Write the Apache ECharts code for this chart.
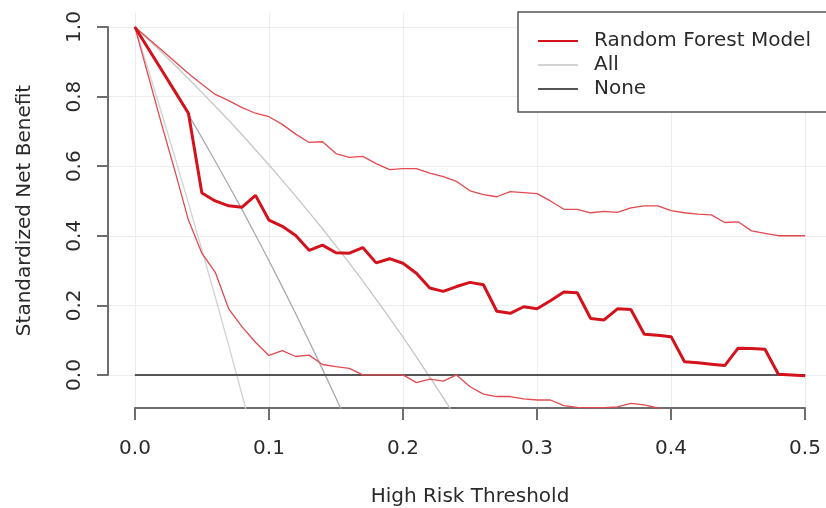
<!DOCTYPE html>
<html><head><meta charset="utf-8">
<script src="https://cdn.jsdelivr.net/npm/echarts@6/dist/echarts.min.js"></script>
<style>html,body{margin:0;padding:0;background:#fff}#c{width:826px;height:508px}</style>
</head><body><div id="c"></div>
<script>
const thresholds = [0.00,0.01,0.02,0.03,0.04,0.05,0.06,0.07,0.08,0.09,0.10,0.11,0.12,0.13,0.14,0.15,0.16,0.17,0.18,0.19,0.20,0.21,0.22,0.23,0.24,0.25,0.26,0.27,0.28,0.29,0.30,0.31,0.32,0.33,0.34,0.35,0.36,0.37,0.38,0.39,0.40,0.41,0.42,0.43,0.44,0.45,0.46,0.47,0.48,0.49,0.50];
const modelNB = [1.0,0.938,0.876,0.814,0.752,0.523,0.500,0.486,0.482,0.516,0.445,0.427,0.401,0.358,0.373,0.351,0.350,0.366,0.322,0.334,0.321,0.292,0.250,0.240,0.254,0.266,0.259,0.183,0.177,0.196,0.190,0.213,0.238,0.236,0.162,0.158,0.190,0.188,0.117,0.114,0.110,0.038,0.035,0.031,0.027,0.077,0.076,0.074,0.002,0.000,-0.002];
const modelUpper = [1.0,0.967,0.934,0.900,0.866,0.835,0.806,0.788,0.768,0.752,0.742,0.720,0.692,0.668,0.670,0.636,0.625,0.628,0.607,0.590,0.593,0.593,0.580,0.570,0.556,0.529,0.518,0.512,0.527,0.524,0.521,0.500,0.476,0.476,0.466,0.470,0.467,0.480,0.486,0.486,0.472,0.466,0.462,0.460,0.438,0.440,0.414,0.407,0.400,0.400,0.400];
const modelLower = [1.0,0.86,0.72,0.585,0.445,0.35,0.295,0.19,0.138,0.094,0.056,0.07,0.053,0.057,0.03,0.024,0.019,0.0,0.0,0.0,0.0,-0.022,-0.012,-0.018,0.0,-0.034,-0.055,-0.062,-0.062,-0.069,-0.072,-0.072,-0.088,-0.093,-0.094,-0.094,-0.092,-0.082,-0.086,-0.095,-0.11];
const allLow = [1.0,0.877,0.752,0.624,0.493,0.360,0.224,0.085,-0.057,-0.203];
const allMid = [1.0,0.939,0.877,0.813,0.748,0.682,0.614,0.545,0.475,0.402,0.329,0.253,0.176,0.097,0.016,-0.066,-0.151];
const allHigh = [1.0,0.964,0.927,0.890,0.851,0.812,0.772,0.732,0.690,0.647,0.604,0.559,0.514,0.467,0.420,0.371,0.321,0.270,0.217,0.164,0.109,0.052,-0.006,-0.065,-0.126];
const noneX = [0.0, 0.5];
const noneY = [0.0, 0.0];
const xTickLabels = ['0.0','0.1','0.2','0.3','0.4','0.5'];
const yTickLabels = ['0.0','0.2','0.4','0.6','0.8','1.0'];

const FONT = 'DejaVu Sans';
const TXT = '#2b2b2b';
const AX = '#6e6e6e';
const pairs = (ys, xs) => ys.map((y, i) => [(xs || thresholds)[i], y]);

const chart = echarts.init(document.getElementById('c'), null, {renderer: 'canvas'});
const line = (name, data, color, width, z) => ({
  type: 'line', name, data, xAxisIndex: 0, yAxisIndex: 0, symbol: 'none', showSymbol: false,
  lineStyle: {color, width}, itemStyle: {color}, z, silent: true, animation: false, clip: true
});
const G = {containLabel: false, outerBoundsMode: 'none'};
chart.setOption({
  animation: false,
  backgroundColor: '#fff',
  grid: [
    Object.assign({left: 108, width: 724, top: 13, height: 395}, G),
    Object.assign({left: 135, width: 670, top: 13, height: 395}, G),
    Object.assign({left: 108, width: 724, top: 27, height: 348}, G)
  ],
  xAxis: [
    {gridIndex: 0, type: 'value', min: -0.02, max: 0.52,
     axisLine: {show: false}, axisTick: {show: false}, axisLabel: {show: false}, splitLine: {show: false},
     name: 'High Risk Threshold', nameLocation: 'middle', nameGap: 79,
     nameTextStyle: {fontFamily: FONT, fontSize: 20, color: TXT}},
    {gridIndex: 1, type: 'value', min: 0, max: 0.5, interval: 0.1,
     axisLine: {show: true, onZero: false, lineStyle: {color: AX, width: 2}},
     axisTick: {show: true, inside: false, length: 12, lineStyle: {color: AX, width: 2}},
     axisLabel: {fontFamily: FONT, fontSize: 20, color: TXT, margin: 31,
                 formatter: (v) => xTickLabels[Math.round(v * 10)]},
     splitLine: {show: true, lineStyle: {color: '#ededed', width: 1}}},
    {gridIndex: 2, type: 'value', show: false, min: 0, max: 1}
  ],
  yAxis: [
    {gridIndex: 0, type: 'value', min: -0.095, max: 1.04,
     axisLine: {show: false}, axisTick: {show: false}, axisLabel: {show: false}, splitLine: {show: false},
     name: 'Standardized Net Benefit', nameLocation: 'middle', nameGap: 73, nameRotate: 90,
     nameTextStyle: {fontFamily: FONT, fontSize: 20, color: TXT}},
    {gridIndex: 1, type: 'value', show: false, min: 0, max: 1},
    {gridIndex: 2, type: 'value', min: 0, max: 1, interval: 0.2,
     axisLine: {show: true, onZero: false, lineStyle: {color: AX, width: 2}},
     axisTick: {show: true, inside: false, length: 11, lineStyle: {color: AX, width: 2}},
     axisLabel: {fontFamily: FONT, fontSize: 20, color: TXT, margin: 23, rotate: 90,
                 formatter: (v) => yTickLabels[Math.round(v * 5)]},
     splitLine: {show: true, lineStyle: {color: '#ededed', width: 1}}}
  ],
  legend: {
    orient: 'vertical', left: 518, top: 12, padding: [19, 28, 13, 19],
    itemWidth: 40, itemHeight: 14, itemGap: 4,
    borderColor: '#555', borderWidth: 1.5, backgroundColor: '#fff', selectedMode: false,
    itemStyle: {color: 'rgba(0,0,0,0)', borderWidth: 0, opacity: 0},
    textStyle: {fontFamily: FONT, fontSize: 20, color: TXT, padding: [0, 0, 0, 11]},
    data: ['Random Forest Model', 'All', 'None']
  },
  series: [
    line('Random Forest Model', pairs(modelNB), '#d3121c', 3, 10),
    line('All', pairs(allLow), '#d2d2d2', 1.3, 2),
    line('All', pairs(allMid), '#a9a9a9', 1.3, 2),
    line('All', pairs(allHigh), '#c6c6c6', 1.3, 2),
    line('None', pairs(noneY, noneX), '#555555', 2, 3),
    line('Random Forest Model', pairs(modelUpper), '#e24a50', 1.3, 5),
    line('Random Forest Model', pairs(modelLower), '#e24a50', 1.3, 5)
  ]
});
</script></body></html>
